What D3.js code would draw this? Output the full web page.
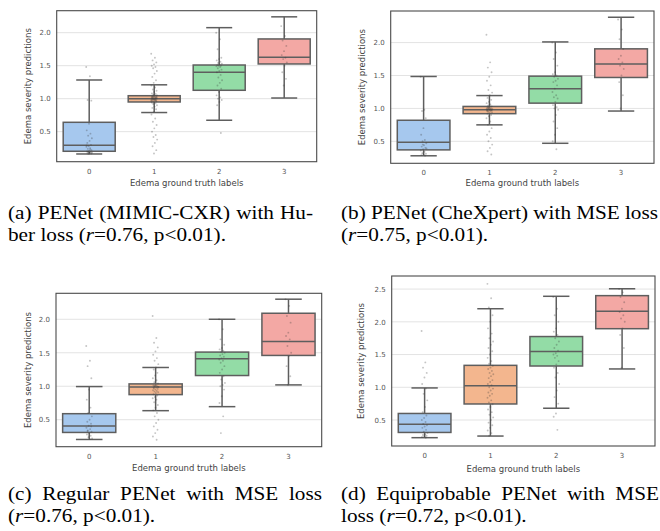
<!DOCTYPE html>
<html><head><meta charset="utf-8">
<script src="https://cdn.jsdelivr.net/npm/d3@7"></script>
<style>body{margin:0;background:#fff}svg{display:block}</style>
</head><body>
<svg id="c" width="660" height="531"></svg>
<script>
// ---------------- DATA ----------------
const categories = ["0", "1", "2", "3"];
const yTicksABC = [0.5, 1.0, 1.5, 2.0];
const yTicksD = [0.5, 1.0, 1.5, 2.0, 2.5];
const yLabel = "Edema severity predictions";
const xLabel = "Edema ground truth labels";

// box stats per category: [whiskerLow, q1, median, q3, whiskerHigh]
const boxA = [[0.162, 0.203, 0.294, 0.642, 1.283], [0.79, 0.95, 1.0, 1.045, 1.21], [0.673, 1.127, 1.40, 1.51, 2.076], [1.01, 1.526, 1.627, 1.905, 2.24]];
const boxB = [[0.28, 0.37, 0.485, 0.82, 1.485], [0.75, 0.92, 0.98, 1.03, 1.195], [0.47, 1.08, 1.30, 1.49, 2.01], [0.96, 1.47, 1.675, 1.905, 2.385]];
const boxC = [[0.205, 0.31, 0.405, 0.59, 0.995], [0.635, 0.875, 0.99, 1.035, 1.28], [0.695, 1.16, 1.41, 1.51, 2.0], [1.02, 1.46, 1.67, 2.09, 2.30]];
const boxD = [[0.23, 0.31, 0.435, 0.60, 0.99], [0.255, 0.745, 1.025, 1.335, 2.20], [0.68, 1.325, 1.545, 1.775, 2.39], [1.28, 1.895, 2.16, 2.40, 2.505]];

// strip points per category
const pointsA = [
  [1.48, 1.34, 0.98, 0.97, 0.62, 0.52, 0.47, 0.44, 0.4, 0.36, 0.33, 0.3, 0.28, 0.27, 0.25, 0.24, 0.22, 0.21, 0.2, 0.19, 0.19, 0.18, 0.18, 0.17, 0.17, 0.16, 0.29, 0.23, 0.2],
  [1.68, 1.62, 1.58, 1.55, 1.52, 1.5, 1.48, 1.46, 1.42, 1.38, 1.33, 1.28, 1.24, 1.2, 1.17, 1.14, 1.12, 1.1, 1.08, 1.07, 1.06, 1.05, 1.04, 1.03, 1.03, 1.02, 1.02, 1.01, 1.01, 1.0, 1.0, 1.0, 0.99, 0.99, 0.98, 0.98, 0.97, 0.96, 0.95, 0.94, 0.93, 0.92, 0.9, 0.88, 0.86, 0.84, 0.8, 0.76, 0.7, 0.65, 0.6, 0.55, 0.5, 0.45, 0.42, 0.38, 0.33, 0.28, 0.22, 0.17, 1.0, 1.01, 0.99, 1.02, 0.98, 1.03, 0.97, 1.04, 0.96],
  [2.0, 1.9, 1.75, 1.62, 1.6, 1.58, 1.56, 1.54, 1.53, 1.52, 1.51, 1.5, 1.5, 1.49, 1.48, 1.46, 1.44, 1.42, 1.4, 1.36, 1.32, 1.28, 1.24, 1.2, 1.15, 1.1, 1.05, 1.02, 1.0, 0.98, 0.95, 0.9, 0.48],
  [2.1, 1.95, 1.88, 1.8, 1.72, 1.66, 1.62, 1.6, 1.55, 1.5, 1.4, 1.3, 1.2]
];
const pointsB = [
  [1.48, 0.98, 0.96, 0.85, 0.7, 0.6, 0.52, 0.5, 0.47, 0.44, 0.42, 0.4, 0.38, 0.36, 0.34, 0.32, 0.31, 0.3, 0.29, 0.28, 0.45, 0.39],
  [2.12, 1.7, 1.62, 1.55, 1.48, 1.42, 1.35, 1.28, 1.24, 1.2, 1.16, 1.13, 1.1, 1.08, 1.06, 1.04, 1.03, 1.02, 1.01, 1.0, 1.0, 0.99, 0.99, 0.98, 0.98, 0.97, 0.97, 0.96, 0.95, 0.94, 0.93, 0.92, 0.9, 0.88, 0.85, 0.8, 0.75, 0.7, 0.65, 0.6, 0.55, 0.5, 0.45, 0.4, 0.35, 0.3, 1.0, 0.99, 0.98, 1.01, 0.97, 1.02, 0.96],
  [2.0, 1.85, 1.75, 1.65, 1.55, 1.52, 1.5, 1.48, 1.45, 1.42, 1.4, 1.35, 1.3, 1.25, 1.2, 1.17, 1.15, 1.1, 1.05, 1.02, 1.0, 0.98, 0.9, 0.8, 0.7, 0.6, 0.5, 0.38],
  [2.35, 2.2, 2.05, 1.9, 1.8, 1.75, 1.7, 1.65, 1.6, 1.5, 1.4, 1.2, 1.0]
];
const pointsC = [
  [1.6, 1.38, 1.3, 1.12, 0.95, 0.8, 0.68, 0.6, 0.55, 0.5, 0.47, 0.44, 0.41, 0.38, 0.36, 0.34, 0.32, 0.3, 0.28, 0.26, 0.24, 0.22, 0.21, 0.33, 0.4],
  [2.05, 1.72, 1.65, 1.58, 1.52, 1.47, 1.42, 1.38, 1.33, 1.28, 1.25, 1.2, 1.16, 1.12, 1.09, 1.06, 1.04, 1.02, 1.01, 1.0, 1.0, 0.99, 0.98, 0.97, 0.96, 0.95, 0.94, 0.93, 0.92, 0.91, 0.9, 0.88, 0.86, 0.84, 0.82, 0.8, 0.76, 0.72, 0.68, 0.64, 0.6, 0.55, 0.5, 0.45, 0.4, 0.35, 0.3, 0.25, 0.2, 1.0, 0.99, 1.01, 0.98],
  [2.0, 1.85, 1.7, 1.62, 1.57, 1.55, 1.53, 1.51, 1.5, 1.48, 1.46, 1.44, 1.42, 1.4, 1.38, 1.35, 1.3, 1.25, 1.2, 1.15, 1.1, 1.05, 1.02, 1.0, 0.95, 0.85, 0.75, 0.55, 0.3],
  [2.3, 2.2, 2.05, 1.95, 1.8, 1.75, 1.7, 1.6, 1.5, 1.45, 1.3, 1.15, 1.02]
];
const pointsD = [
  [1.86, 1.38, 1.3, 1.22, 1.15, 1.05, 0.98, 0.9, 0.8, 0.7, 0.62, 0.57, 0.53, 0.5, 0.47, 0.44, 0.42, 0.4, 0.38, 0.35, 0.32, 0.3, 0.28, 0.27, 0.26, 0.25, 0.24, 0.23],
  [2.58, 2.36, 2.22, 2.1, 2.0, 1.9, 1.82, 1.75, 1.7, 1.65, 1.6, 1.55, 1.5, 1.45, 1.4, 1.36, 1.33, 1.3, 1.28, 1.25, 1.22, 1.2, 1.17, 1.14, 1.11, 1.08, 1.05, 1.03, 1.0, 0.98, 0.95, 0.92, 0.9, 0.87, 0.84, 0.8, 0.77, 0.74, 0.7, 0.66, 0.62, 0.58, 0.54, 0.5, 0.46, 0.42, 0.38, 0.34, 0.3, 0.26],
  [2.38, 2.2, 2.1, 2.0, 1.9, 1.85, 1.8, 1.75, 1.7, 1.65, 1.6, 1.56, 1.52, 1.5, 1.48, 1.45, 1.4, 1.35, 1.3, 1.22, 1.15, 1.05, 0.95, 0.85, 0.75, 0.6, 0.55, 0.35],
  [2.5, 2.45, 2.38, 2.3, 2.2, 2.15, 2.1, 2.05, 2.0, 1.9, 1.8, 1.6, 1.3]
];

const captionA = ["(a) PENet (MIMIC-CXR) with Hu-", "ber loss (r=0.76, p<0.01)."];
const captionB = ["(b) PENet (CheXpert) with MSE loss", "(r=0.75, p<0.01)."];
const captionC = ["(c) Regular PENet with MSE loss", "(r=0.76, p<0.01)."];
const captionD = ["(d) Equiprobable PENet with MSE", "loss (r=0.72, p<0.01)."];

const boxColors = ["#a6c8ee", "#f3b68e", "#93dca6", "#f3a8a4"];

// ---------------- LAYOUT ----------------
const svg = d3.select("#c");
svg.append("rect").attr("width", 660).attr("height", 531).attr("fill", "#fff");

const panels = [
  {box: boxA, pts: pointsA, ticks: yTicksABC, x0: 56.7, x1: 316.7, y0: 10.7, y1: 161.7, dom: [0.045, 2.333], ylx: 28.4, xlo: 24},
  {box: boxB, pts: pointsB, ticks: yTicksABC, x0: 390.7, x1: 654, y0: 11, y1: 163.3, dom: [0.166, 2.48], ylx: 29, xlo: 23},
  {box: boxC, pts: pointsC, ticks: yTicksABC, x0: 56, x1: 321.7, y0: 293.3, y1: 446.7, dom: [0.097, 2.388], ylx: 28, xlo: 24},
  {box: boxD, pts: pointsD, ticks: yTicksD, x0: 391.7, x1: 655, y0: 276, y1: 446, dom: [0.103, 2.70], ylx: 31, xlo: 26}
];

const edge = "#5e5e5e";
const sansFont = "'DejaVu Sans', sans-serif";

panels.forEach(p => {
  const g = svg.append("g");
  const x = d3.scaleBand().domain(categories).range([p.x0, p.x1]).padding(0);
  const y = d3.scaleLinear().domain(p.dom).range([p.y1, p.y0]);
  const bw = x.bandwidth();
  const boxW = bw * 0.8;
  const capW = boxW * 0.5;
  const cx = c => x(c) + bw / 2;

  // grid
  g.append("g").selectAll("line").data(p.ticks).join("line")
    .attr("x1", p.x0).attr("x2", p.x1)
    .attr("y1", d => y(d)).attr("y2", d => y(d))
    .attr("stroke", "#e3e3e3").attr("stroke-width", 1);

  const ya = g.append("g").attr("transform", `translate(${p.x0},0)`)
    .call(d3.axisLeft(y).tickValues(p.ticks).tickFormat(d3.format(".1f")).tickSize(0).tickPadding(6));
  ya.select(".domain").remove();
  ya.selectAll("text").attr("font-family", sansFont).attr("font-size", 7).attr("fill", "#555");

  const xa = g.append("g").attr("transform", `translate(0,${p.y1})`)
    .call(d3.axisBottom(x).tickSize(0).tickPadding(7));
  xa.select(".domain").remove();
  xa.selectAll("text").attr("font-family", sansFont).attr("font-size", 7).attr("fill", "#555");

  // boxes
  p.box.forEach((b, i) => {
    const c = cx(categories[i]);
    const [lo, q1, med, q3, hi] = b;
    const bg = g.append("g").attr("stroke", edge).attr("stroke-width", 1.5);
    bg.append("line").attr("x1", c).attr("x2", c).attr("y1", y(q3)).attr("y2", y(hi));
    bg.append("line").attr("x1", c).attr("x2", c).attr("y1", y(q1)).attr("y2", y(lo));
    bg.append("line").attr("x1", c - capW / 2).attr("x2", c + capW / 2).attr("y1", y(hi)).attr("y2", y(hi));
    bg.append("line").attr("x1", c - capW / 2).attr("x2", c + capW / 2).attr("y1", y(lo)).attr("y2", y(lo));
    bg.append("rect").attr("x", c - boxW / 2).attr("width", boxW)
      .attr("y", y(q3)).attr("height", y(q1) - y(q3)).attr("fill", boxColors[i]);
    bg.append("line").attr("x1", c - boxW / 2).attr("x2", c + boxW / 2).attr("y1", y(med)).attr("y2", y(med));
  });

  // strip points
  p.pts.forEach((arr, i) => {
    const c = cx(categories[i]);
    g.append("g").selectAll("circle").data(arr).join("circle")
      .attr("cx", (d, j) => c + (((j * 0.6180339887) % 1) - 0.5) * 6)
      .attr("cy", d => y(d))
      .attr("r", 0.95)
      .attr("fill", "#3c3c3c").attr("fill-opacity", 0.3);
  });

  // frame
  g.append("rect").attr("x", p.x0).attr("y", p.y0).attr("width", p.x1 - p.x0).attr("height", p.y1 - p.y0)
    .attr("fill", "none").attr("stroke", "#4a4a4a").attr("stroke-width", 1.1);

  // axis labels
  g.append("text").attr("transform", `translate(${p.x0 - p.ylx},${(p.y0 + p.y1) / 2}) rotate(-90)`)
    .attr("text-anchor", "middle").attr("dy", "0.35em")
    .attr("font-family", sansFont).attr("font-size", 8.5).attr("fill", "#444").text(yLabel);
  g.append("text").attr("x", (p.x0 + p.x1) / 2).attr("y", p.y1 + p.xlo)
    .attr("text-anchor", "middle")
    .attr("font-family", sansFont).attr("font-size", 8.5).attr("fill", "#444").text(xLabel);
});

// ---------------- CAPTIONS ----------------
const serif = "'Liberation Serif', 'Times New Roman', serif";
const fs = 18, sx = 1.18;
function addWord(parent, w) {
  const t = parent.append("text").attr("font-family", serif).attr("font-size", fs).attr("fill", "#000");
  const m = w.match(/^(.*\()r(=.*)$/);
  if (m) {
    t.append("tspan").text(m[1]);
    t.append("tspan").attr("font-style", "italic").text("r");
    t.append("tspan").text(m[2]);
  } else t.text(w);
  return t;
}
function caption(lines, x0, x1, y0, lh) {
  lines.forEach((line, li) => {
    const g = svg.append("g").attr("transform", `translate(${x0},${y0 + li * lh}) scale(${sx},1)`);
    const words = line.split(" ");
    const ts = words.map(w => addWord(g, w));
    const widths = ts.map(t => t.node().getComputedTextLength());
    const total = d3.sum(widths);
    const target = (x1 - x0) / sx;
    const spaceW = fs * 0.25;
    const gap = (li === 0 && words.length > 1) ? (target - total) / (words.length - 1) : spaceW;
    let cur = 0;
    ts.forEach((t, k) => { t.attr("x", cur); cur += widths[k] + gap; });
  });
}
caption(captionA, 8, 313, 219, 22);
caption(captionB, 341, 658, 219, 22);
caption(captionC, 8, 322, 500, 22);
caption(captionD, 341, 659, 500, 22);
</script>
</body></html>
